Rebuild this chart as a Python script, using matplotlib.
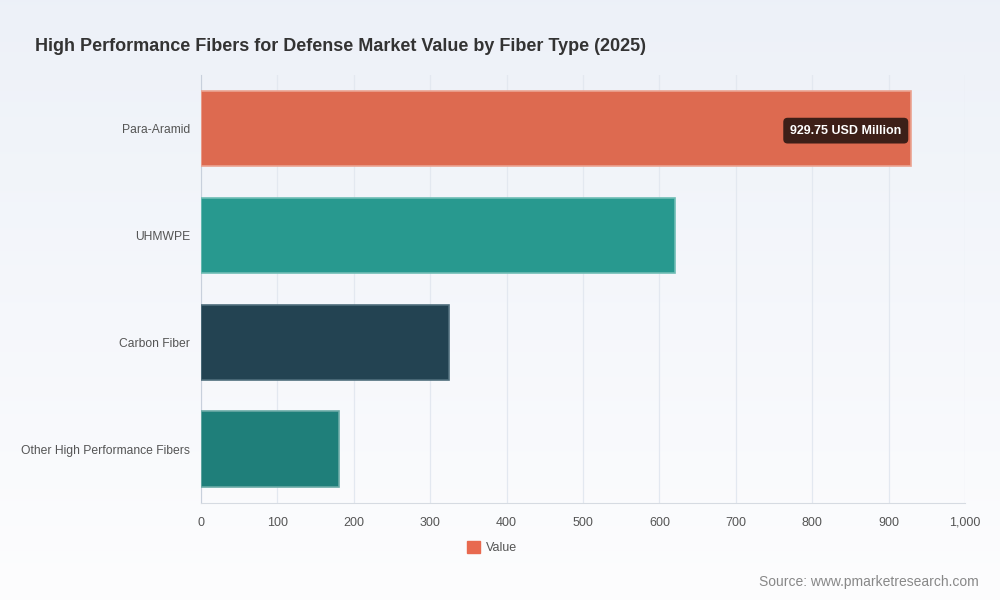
import matplotlib.pyplot as plt
import numpy as np
from matplotlib.patches import Patch

plt.rcParams['font.family'] = ['Liberation Sans', 'DejaVu Sans']

categories = ['Para-Aramid', 'UHMWPE', 'Carbon Fiber', 'Other High Performance Fibers']
values = [929.75, 620, 325, 181]
bar_colors = ['#dd6a50', '#28998f', '#234352', '#1f7f7a']
edge_colors = ['#eba391', '#6fbdb5', '#4f6e7c', '#6aaaa6']
x_ticks = [0, 100, 200, 300, 400, 500, 600, 700, 800, 900, 1000]

fig = plt.figure(figsize=(10, 6), dpi=100)

# soft vertical gradient behind everything
bg = fig.add_axes([0, 0, 1, 1], zorder=-10)
grad = np.linspace(0, 1, 256).reshape(-1, 1)
top = np.array([0.929, 0.945, 0.973])
bottom = np.array([0.992, 0.992, 0.996])
img = top + (bottom - top) * grad[:, :, None]
bg.imshow(img, aspect='auto', extent=[0, 1, 0, 1])
bg.axis('off')

ax = fig.add_axes([0.201, 0.1617, 0.764, 0.7133])
ax.set_facecolor('none')

y = np.arange(len(categories))
ax.barh(y, values, height=0.71, color=bar_colors, edgecolor=edge_colors,
        linewidth=1.2, zorder=3)
ax.set_yticks(y)
ax.set_yticklabels(categories)
ax.set_ylim(len(categories) - 0.5, -0.5)
ax.set_xlim(0, 1000)
ax.set_xticks(x_ticks)
ax.set_xticklabels([f'{t:,}' for t in x_ticks])

ax.grid(axis='x', color='#e3e8f0', linewidth=0.9, zorder=0)
ax.tick_params(axis='x', length=0, labelsize=9, colors='#555555', pad=10)
ax.tick_params(axis='y', length=0, labelsize=8.7, colors='#555555', pad=8)
for s in ['top', 'right']:
    ax.spines[s].set_visible(False)
ax.spines['left'].set_color('#c8d0dc')
ax.spines['bottom'].set_color('#d6dbe2')

# tooltip-like label on the top bar
ax.text(values[0] - 13, 0.02, f'{values[0]:.2f} USD Million', ha='right', va='center',
        color='white', fontsize=9, fontweight='bold', zorder=5,
        bbox=dict(boxstyle='round,pad=0.55,rounding_size=0.35',
                  fc='#3d1f18', ec='none'))

fig.text(0.035, 0.922, 'High Performance Fibers for Defense Market Value by Fiber Type (2025)',
         fontsize=13, fontweight='bold', color='#333333', va='center')

fig.legend(handles=[Patch(color='#e8694f', label='Value')], loc='center',
           bbox_to_anchor=(0.492, 0.087), frameon=False, fontsize=9,
           handlelength=1.0, handleheight=1.0, handletextpad=0.5,
           labelcolor='#555555')

fig.text(0.979, 0.03, 'Source: www.pmarketresearch.com', ha='right', va='center',
         fontsize=10, color='#888888')

fig.savefig('out.png', dpi=100)
